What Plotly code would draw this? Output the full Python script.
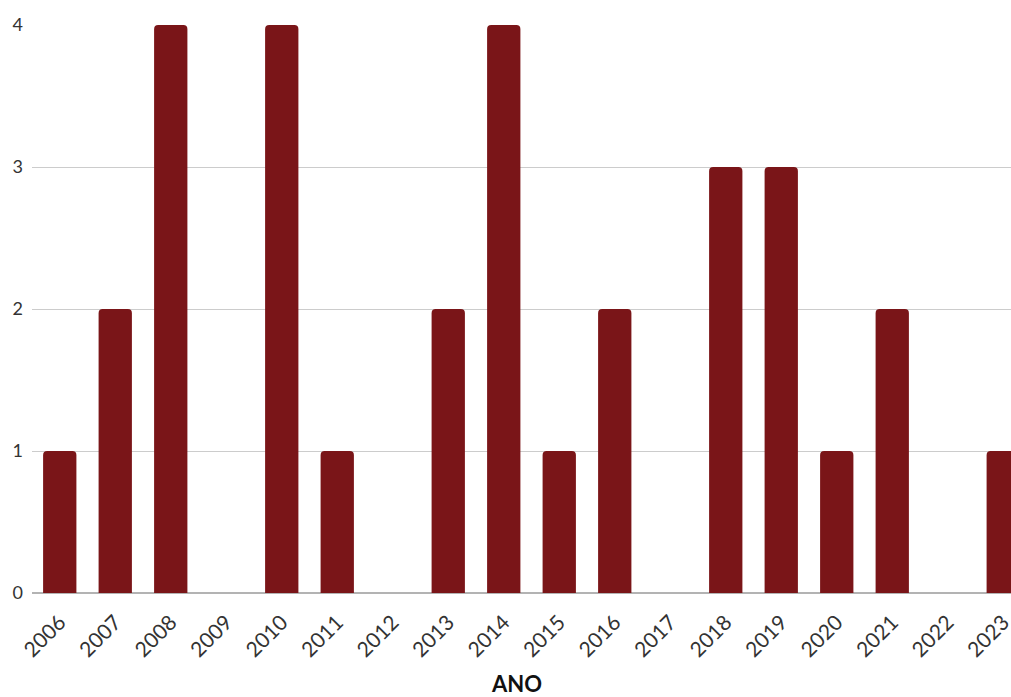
import plotly.graph_objects as go

years = ["2006", "2007", "2008", "2009", "2010", "2011", "2012", "2013", "2014",
         "2015", "2016", "2017", "2018", "2019", "2020", "2021", "2022", "2023"]
counts = [1, 2, 4, 0, 4, 1, 0, 2, 4, 1, 2, 0, 3, 3, 1, 2, 0, 1]
y_ticks = [0, 1, 2, 3, 4]
x_title = "ANO"

W, H = 1040, 697
ML, MR, MT, MB = 32, 9, 25, 104

fig = go.Figure(go.Bar(
    x=years, y=counts,
    marker=dict(color="#7a1518", line=dict(width=0)),
))

fig.update_layout(
    width=W, height=H,
    margin=dict(l=ML, r=MR, t=MT, b=MB),
    paper_bgcolor="white", plot_bgcolor="white",
    bargap=0.4, barcornerradius=4,
    showlegend=False,
    font=dict(family="Lato, sans-serif", color="#333333", size=17),
)
fig.update_xaxes(
    type="category", tickangle=-45, showgrid=False,
    showline=False, ticks="", tickfont=dict(size=21, color="#333333"),
    ticklabelstandoff=12,
)
fig.update_yaxes(
    range=[0, 4], tickvals=y_ticks, showgrid=True, gridcolor="#cccccc",
    gridwidth=1, zeroline=True, zerolinecolor="#b3b3b3", zerolinewidth=2,
    ticks="", tickfont=dict(size=18, color="#333333"), ticklabelstandoff=8,
)
fig.add_annotation(
    text="<b>" + x_title + "</b>", xref="paper", yref="paper",
    x=(516 - ML) / (W - ML - MR), y=0, yshift=-(683 - (H - MB)),
    xanchor="center", yanchor="middle", showarrow=False,
    font=dict(size=22, color="#111111", family="Lato, sans-serif"),
)

fig.write_html("out.html", config={"displayModeBar": False},
               post_script="document.body.style.margin='0';")
